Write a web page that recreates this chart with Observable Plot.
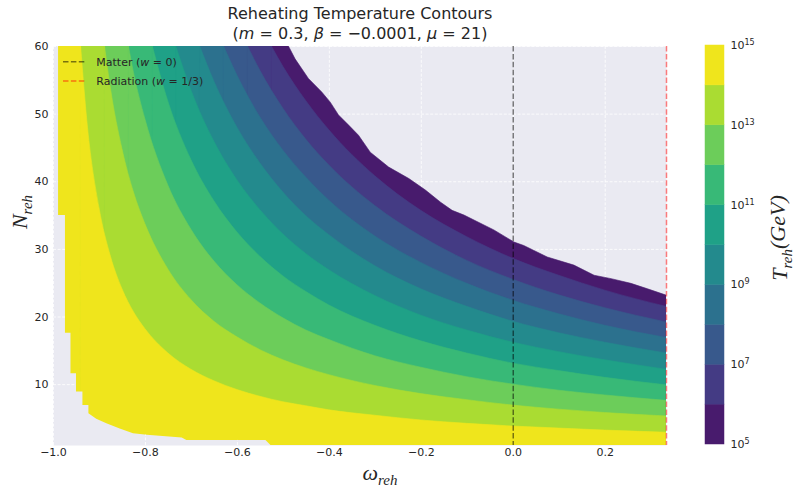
<!DOCTYPE html>
<html>
<head>
<meta charset="utf-8">
<script src="https://cdn.jsdelivr.net/npm/d3@7"></script>
<script src="https://cdn.jsdelivr.net/npm/@observablehq/plot@0.6"></script>
<style>
  body { margin: 0; background: #ffffff; }
  #wrap { position: relative; width: 793px; height: 486px; overflow: hidden; }
  #wrap > svg { position: absolute; top: 0; }
</style>
</head>
<body>
<div id="wrap"></div>
<script>
// ---------------- data ----------------
const xTicks = [-1.0, -0.8, -0.6, -0.4, -0.2, 0.0, 0.2];
const yTicks = [10, 20, 30, 40, 50, 60];
const cbarTicks = [5, 7, 9, 11, 13, 15];
const bandExps = [5, 6, 7, 8, 9, 10, 11, 12, 13, 14];   // band = [10^e, 10^(e+1)]

// w samples at which the contour lines were read
const gridW = [-0.925, -0.9, -0.875, -0.85, -0.825, -0.8, -0.75, -0.7, -0.65, -0.6, -0.55,
               -0.5, -0.45, -0.4, -0.3, -0.2, -0.1, 0, 0.1, 0.2, 0.333];
// N_reh of each contour line at gridW (null = above the frame)
const n1e14 = [48.0, 36.1, 28.9, 24.1, 20.7, 18.2, 14.6, 12.2, 10.5, 9.2, 8.2, 7.4, 6.8, 6.2, 5.4, 4.7, 4.2, 3.8, 3.5, 3.2, 2.9];
const n1e13 = [null, null, 53.7, 44.8, 38.4, 33.7, 27.0, 22.5, 19.3, 17.0, 15.1, 13.6, 12.4, 11.4, 9.8, 8.6, 7.7, 6.9, 6.3, 5.8, 5.3];
const n1e12 = [null, null, null, null, 56.1, 49.2, 39.4, 32.9, 28.2, 24.7, 22.0, 19.8, 18.0, 16.6, 14.2, 12.5, 11.1, 10.0, 9.1, 8.4, 7.6];
const n1e11 = [null, null, null, null, null, null, 51.8, 43.2, 37.1, 32.5, 28.9, 26.0, 23.7, 21.7, 18.7, 16.4, 14.6, 13.1, 12.0, 11.0, 9.9];
const n1e10 = [null, null, null, null, null, null, null, 53.5, 45.9, 40.2, 35.8, 32.2, 29.3, 26.9, 23.1, 20.2, 18.0, 16.2, 14.8, 13.6, 12.2];
const n1e9  = [null, null, null, null, null, null, null, null, 54.8, 48.0, 42.7, 38.4, 34.9, 32.1, 27.5, 24.1, 21.5, 19.3, 17.6, 16.2, 14.6];
const n1e8  = [null, null, null, null, null, null, null, null, null, 55.7, 49.5, 44.6, 40.6, 37.2, 31.9, 28.0, 24.9, 22.4, 20.4, 18.7, 16.9];
const n1e7  = [null, null, null, null, null, null, null, null, null, null, 56.4, 50.8, 46.2, 42.4, 36.4, 31.9, 28.3, 25.5, 23.2, 21.3, 19.2];
const n1e6  = [null, null, null, null, null, null, null, null, null, null, null, 57.0, 51.9, 47.6, 40.8, 35.7, 31.8, 28.6, 26.1, 23.9, 21.5];
// w where each contour line leaves the top of the frame (N = 60), for levels 6..14
const contourExps = [6, 7, 8, 9, 10, 11, 12, 13, 14];
const topW = [-0.525, -0.577, -0.629, -0.681, -0.733, -0.784, -0.836, -0.888, -0.940];

// upper edge of the data region (blank above, top right)
const upperEdgeW = [-1, -0.488, -0.4735, -0.4445, -0.4155, -0.397, -0.379, -0.357, -0.3355, -0.31, -0.27, -0.226, -0.19,
                    -0.157, -0.132, -0.106, -0.041, 0.003, 0.024, 0.075, 0.133, 0.177, 0.214, 0.257, 0.293, 0.334];
const upperEdgeN = [60, 60, 58.1, 55.2, 53.2, 51.7, 49.8, 48.3, 46.8, 44.3, 42.1, 40.4, 38.7,
                    36.9, 35.7, 35.0, 32.8, 31.0, 30.5, 28.8, 27.6, 26.1, 25.6, 24.9, 24.1, 23.15];
// lower-left edge of the data region (blank below/left of it)
const lowerEdgeW = [-1, -0.989, -0.989, -0.974, -0.974, -0.962, -0.962, -0.950, -0.950, -0.936, -0.936, -0.923, -0.923,
                    -0.906, -0.884, -0.855, -0.826, -0.796, -0.72, -0.71, -0.538, -0.527];
const lowerEdgeN = [60, 60, 35.0, 35.0, 17.6, 17.6, 11.6, 11.6, 8.9, 8.9, 6.9, 6.9, 5.7,
                    4.9, 4.2, 3.45, 2.75, 2.5, 2.1, 1.75, 1.75, 1.0];

// ---------------- build ----------------
const bg = "#eaeaf2";
const gridStyle = {stroke: "#ffffff", strokeOpacity: 1, strokeWidth: 0.8, strokeDasharray: "3,1.6"};
// log-normed colour of each decade band (mid value 5.5 x 10^e on a log scale from 10^5 to 10^15)
const color = e => d3.interpolateViridis((e - 5 + Math.log10(5.5)) / 10);
const nByExp = {6: n1e6, 7: n1e7, 8: n1e8, 9: n1e9, 10: n1e10, 11: n1e11, 12: n1e12, 13: n1e13, 14: n1e14};
const contours = contourExps.map((e, i) => ({exp: e, wTop: topW[i], n: nByExp[e]}));
const upperEdge = upperEdgeW.map((w, i) => ({w, n: upperEdgeN[i]}));
const lowerEdge = lowerEdgeW.map((w, i) => ({w, n: lowerEdgeN[i]}));
const yMin = 1, yMax = 60;

function boundaryPts(c) {
  return [{w: c.wTop, n: yMax}].concat(
    gridW.map((w, i) => ({w, n: c.n[i]})).filter(d => d.n != null));
}
// where the lower-left blank edge crosses a horizontal grid value
function lowerEdgeW_at(g) {
  let best = -1;
  for (let i = 0; i < lowerEdge.length; i++) {
    const {w, n} = lowerEdge[i];
    if (n >= g) best = w;
    if (i > 0) {
      const p = lowerEdge[i - 1];
      if (p.n >= g && n < g && w > p.w) best = p.w + (w - p.w) * (p.n - g) / (p.n - n);
    }
  }
  return best;
}
function lowerEdgeN_at(wv) {
  let best = yMin;
  for (let i = 1; i < lowerEdge.length; i++) {
    const a = lowerEdge[i - 1], b = lowerEdge[i];
    if (a.w <= wv && wv <= b.w) {
      const n = b.w === a.w ? Math.max(a.n, b.n) : a.n + (b.n - a.n) * (wv - a.w) / (b.w - a.w);
      best = Math.max(best, n);
    }
  }
  return best;
}

const marks = [
  Plot.frame({fill: bg, stroke: null}),
  Plot.ruleX(xTicks, {x: d => d, ...gridStyle}),
  Plot.ruleY(yTicks, {y: d => d, ...gridStyle}),
  Plot.areaY(upperEdge, {x: "w", y1: () => yMin, y2: "n", fill: color(5), stroke: color(5), strokeWidth: 0.6, curve: "linear", clip: true})
];
for (const c of contours) {
  const col = color(c.exp);
  marks.push(Plot.rect([c], {x1: () => -1, x2: d => d.wTop, y1: () => yMin, y2: () => yMax, fill: col, stroke: col, strokeWidth: 0.6, clip: true}));
  marks.push(Plot.areaY(boundaryPts(c), {x: "w", y1: () => yMin, y2: "n", fill: col, stroke: col, strokeWidth: 0.6, curve: "monotone-x", clip: true}));
}
marks.push(
  Plot.areaY(lowerEdge, {x: "w", y1: () => yMin, y2: "n", fill: bg, curve: "linear", clip: true}),
  Plot.ruleY(yTicks.map(g => ({g, w2: lowerEdgeW_at(g)})).filter(d => d.w2 > -1),
    {y: "g", x1: () => -1, x2: "w2", ...gridStyle}),
  Plot.ruleX(xTicks.map(t => ({t, n2: lowerEdgeN_at(t)})).filter(d => d.n2 > yMin),
    {x: "t", y1: () => yMin, y2: "n2", ...gridStyle}),
  Plot.ruleX([0], {x: d => d, stroke: "#000000", strokeOpacity: 0.5, strokeWidth: 1.5, strokeDasharray: "5.5,2.4"}),
  Plot.ruleX([1 / 3], {x: d => d, stroke: "#ff0000", strokeOpacity: 0.5, strokeWidth: 1.5, strokeDasharray: "5.5,2.4"}),
  Plot.axisX(xTicks, {tickSize: 0, tickPadding: 3, label: null,
    tickFormat: d => (d < 0 ? "\u2212" : "") + Math.abs(d).toFixed(1)}),
  Plot.axisY(yTicks, {tickSize: 0, tickPadding: 5, label: null})
);

const main = Plot.plot({
  width: 793, height: 486,
  marginLeft: 53, marginRight: 127, marginTop: 46, marginBottom: 41,
  x: {domain: [-1, 1 / 3]},
  y: {domain: [yMin, yMax]},
  style: {fontFamily: "'DejaVu Sans', sans-serif", fontSize: "11px", color: "#262626", background: "transparent"},
  marks
});
main.style.left = "0px";
document.getElementById("wrap").appendChild(main);

// colorbar
const cbar = Plot.plot({
  width: 93, height: 486,
  marginLeft: 5, marginRight: 69, marginTop: 45, marginBottom: 42,
  x: {domain: [0, 1], axis: null},
  y: {domain: [5, 15], axis: null},
  color: {type: "identity"},
  style: {fontFamily: "'DejaVu Sans', sans-serif", fontSize: "11px", color: "#262626", background: "transparent"},
  marks: [
    Plot.rect(bandExps, {x1: () => 0, x2: () => 1, y1: d => d, y2: d => d + 1, fill: d => color(d), stroke: d => color(d), strokeWidth: 0.5}),
    Plot.axisY(cbarTicks, {anchor: "right", tickSize: 0, tickPadding: 6, label: null, tickFormat: d => "10^" + d})
  ]
});
cbar.style.left = "700px";
document.getElementById("wrap").appendChild(cbar);
d3.select(cbar).selectAll("text").each(function () {
  const t = this.textContent;
  if (t.startsWith("10^")) {
    const ex = t.slice(3);
    const sel = d3.select(this);
    sel.text("10");
    sel.append("tspan").attr("dy", "-0.5em").attr("font-size", "8px").text(ex);
  }
});

// ---------------- text: title, labels, legend ----------------
const svg = d3.select(main);
const txtColor = "#262626";
const sans = "'DejaVu Sans', sans-serif";
const serif = "'Liberation Serif', 'DejaVu Serif', serif";

function richText(g, parts, attrs) {
  const t = g.append("text");
  for (const [k, v] of Object.entries(attrs)) t.attr(k, v);
  for (const p of parts) {
    const s = t.append("tspan").text(p.t);
    if (p.it) s.attr("font-style", "italic");
    if (p.sub) s.attr("font-size", p.sub).attr("dy", p.dy);
    if (p.back) s.attr("dy", p.back);
  }
  return t;
}

svg.append("text").attr("x", 360).attr("y", 18.5).attr("text-anchor", "middle")
  .attr("font-family", sans).attr("font-size", 16).attr("fill", txtColor)
  .text("Reheating Temperature Contours");
richText(svg, [
  {t: "("}, {t: "m", it: true}, {t: " = 0.3, "}, {t: "\u03b2", it: true}, {t: " = \u22120.0001, "},
  {t: "\u03bc", it: true}, {t: " = 21)"}
], {x: 360, y: 38.5, "text-anchor": "middle", "font-family": sans, "font-size": 16, fill: txtColor});

// y label N_reh
richText(svg, [{t: "N", it: true}, {t: "reh", it: true, sub: 15, dy: "0.3em"}],
  {transform: "translate(27,212) rotate(-90)", "text-anchor": "middle", "font-family": serif, "font-size": 22, fill: txtColor});
// x label omega_reh
richText(svg, [{t: "\u03c9", it: true}, {t: "reh", it: true, sub: 15, dy: "0.3em"}],
  {x: 380, y: 480, "text-anchor": "middle", "font-family": serif, "font-size": 22, fill: txtColor});
// colorbar label
richText(svg, [{t: "T", it: true}, {t: "reh", it: true, sub: 15, dy: "0.3em"}, {t: "(GeV)", it: true, back: "-0.3em"}],
  {transform: "translate(787,238) rotate(-90)", "text-anchor": "middle", "font-family": serif, "font-size": 22, fill: txtColor});

// legend
const lg = svg.append("g");
const legendItems = [
  {stroke: "#000000", parts: [{t: "Matter ("}, {t: "w", it: true}, {t: " = 0)"}], y: 61.7},
  {stroke: "#ff0000", parts: [{t: "Radiation ("}, {t: "w", it: true}, {t: " = 1/3)"}], y: 81}
];
for (const it of legendItems) {
  lg.append("line").attr("x1", 63).attr("x2", 85.5).attr("y1", it.y).attr("y2", it.y)
    .attr("stroke", it.stroke).attr("stroke-opacity", 0.5).attr("stroke-width", 1.5).attr("stroke-dasharray", "5.5,2.4");
  richText(lg, it.parts, {x: 96.3, y: it.y + 3.9, "text-anchor": "start", "font-family": sans, "font-size": 11, fill: txtColor});
}
</script>
</body>
</html>
